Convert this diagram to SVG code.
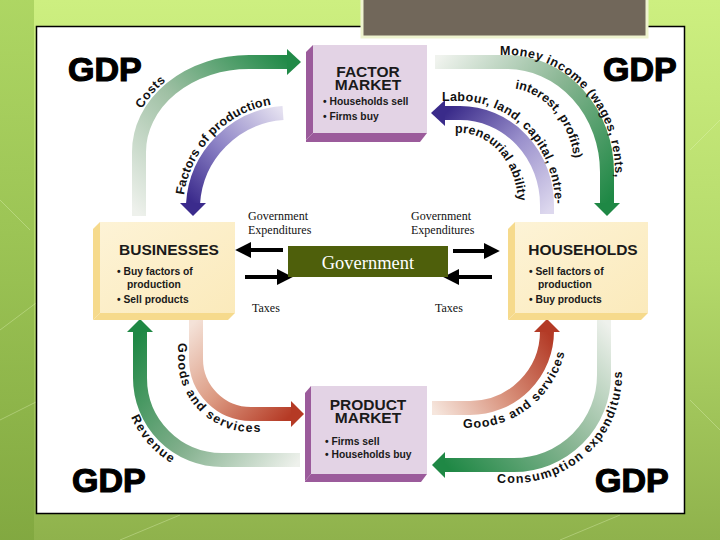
<svg xmlns="http://www.w3.org/2000/svg" width="720" height="540" viewBox="0 0 720 540">
<defs>
<linearGradient id="bg" x1="0" y1="0" x2="0" y2="1">
<stop offset="0" stop-color="#cdef80"/><stop offset="0.5" stop-color="#b4d96a"/><stop offset="1" stop-color="#8fb24c"/>
</linearGradient>
<linearGradient id="strip" x1="0" y1="0" x2="0" y2="1">
<stop offset="0" stop-color="#a6d05c"/><stop offset="1" stop-color="#7fa63e"/>
</linearGradient>
<linearGradient id="gCosts" gradientUnits="userSpaceOnUse" x1="139" y1="215" x2="290" y2="62">
<stop offset="0" stop-color="#eef1ec"/><stop offset="0.5" stop-color="#9fc0a4"/><stop offset="1" stop-color="#218a48"/></linearGradient>
<linearGradient id="gFact" gradientUnits="userSpaceOnUse" x1="283" y1="113" x2="193" y2="203">
<stop offset="0" stop-color="#e4e0f0"/><stop offset="0.55" stop-color="#8a80c4"/><stop offset="1" stop-color="#3b2b8c"/></linearGradient>
<linearGradient id="gMoney" gradientUnits="userSpaceOnUse" x1="435" y1="62" x2="607" y2="203">
<stop offset="0" stop-color="#f0f3ee"/><stop offset="0.5" stop-color="#88b592"/><stop offset="1" stop-color="#1f8845"/></linearGradient>
<linearGradient id="gLab" gradientUnits="userSpaceOnUse" x1="547" y1="213" x2="446" y2="113">
<stop offset="0" stop-color="#ddd8ee"/><stop offset="0.5" stop-color="#9a90cc"/><stop offset="1" stop-color="#3a2b8a"/></linearGradient>
<linearGradient id="gGoodsL" gradientUnits="userSpaceOnUse" x1="196" y1="320" x2="292" y2="414">
<stop offset="0" stop-color="#f4e2d8"/><stop offset="0.5" stop-color="#dc9a82"/><stop offset="1" stop-color="#b53a25"/></linearGradient>
<linearGradient id="gRev" gradientUnits="userSpaceOnUse" x1="300" y1="460" x2="140" y2="333">
<stop offset="0" stop-color="#eef1ec"/><stop offset="0.5" stop-color="#7fae8a"/><stop offset="1" stop-color="#1f8845"/></linearGradient>
<linearGradient id="gGoodsR" gradientUnits="userSpaceOnUse" x1="432" y1="408" x2="547" y2="331">
<stop offset="0" stop-color="#f6e6dd"/><stop offset="0.5" stop-color="#d8907a"/><stop offset="1" stop-color="#b33a26"/></linearGradient>
<linearGradient id="gCons" gradientUnits="userSpaceOnUse" x1="604" y1="320" x2="446" y2="465">
<stop offset="0" stop-color="#eef1ec"/><stop offset="0.5" stop-color="#8ab694"/><stop offset="1" stop-color="#1f8845"/></linearGradient>
<linearGradient id="yellowFace" x1="0" y1="0" x2="1" y2="1">
<stop offset="0" stop-color="#fdf3d6"/><stop offset="1" stop-color="#fbeabb"/></linearGradient>
<marker id="ah" viewBox="0 0 10 10" refX="2" refY="5" markerWidth="4" markerHeight="4" orient="auto" markerUnits="strokeWidth">
<path d="M0,0 L10,5 L0,10 z" fill="#000"/></marker>
<path id="tpCosts" d="M130,152 A119,99 0 0 1 249,53"/>
<path id="tpFact" d="M183,210 A107,107 0 0 1 290,103"/>
<path id="tpMoney" d="M480,55 L507,55 A108,117 0 0 1 615,172 L615,190"/>
<path id="tpInt" d="M500,88 L507,88 A68,84 0 0 1 575,172 L575,180"/>
<path id="tpLab" d="M440,101 L460,101 A95,104 0 0 1 555,205 L555,215"/>
<path id="tpPre" d="M450,133 L460,133 A58,72 0 0 1 518,205 L518,212"/>
<path id="tpGoodsL" d="M178,320 L178,359 A73,73 0 0 0 251,432 L300,432"/>
<path id="tpRev" d="M123,378 A99,99 0 0 0 222,477"/>
<path id="tpGoodsR" d="M440,428 L470,428 A97,97 0 0 0 567,331"/>
<path id="tpCons" d="M470,483 L514,483 A108,108 0 0 0 622,375 L622,350"/>
</defs>
<style>
.gdp{font-family:"Liberation Sans",Arial,sans-serif;font-weight:bold;font-size:34px;fill:#000;stroke:#000;stroke-width:1.2}
.lbl{font-family:"Liberation Sans",Arial,sans-serif;font-weight:bold;font-size:12.5px;fill:#111}
.title{font-family:"Liberation Sans",Arial,sans-serif;font-weight:bold;font-size:15.5px;fill:#1a1a1a}
.bul{font-family:"Liberation Sans",Arial,sans-serif;font-weight:bold;font-size:10.3px;fill:#1a1a1a}
.tm{font-family:"Liberation Serif","Times New Roman",serif;font-size:12px;fill:#111}
.band{fill:none;stroke-width:14}
.pfront{fill:#e3d3e5}
.pside{fill:#9b5b9b}
.yside{fill:#f6da8c}
.blk{stroke:#000;stroke-width:4;fill:none;marker-end:url(#ah)}
</style>

<!-- background -->
<rect x="0" y="0" width="720" height="540" fill="url(#bg)"/>
<rect x="0" y="0" width="34" height="540" fill="url(#strip)" opacity="0.8"/>
<g stroke="#e6f5c0" stroke-width="1" fill="none" opacity="0.35">
<path d="M0,330 L40,300 M0,420 L40,400 M690,150 L720,120 M690,400 L720,430 M120,540 L180,515 M560,540 L620,515 M0,200 L30,230"/>
</g>
<rect x="36.5" y="26.5" width="648" height="487" fill="#fff" stroke="#000" stroke-width="1.5"/>
<rect x="362" y="-3" width="285" height="40" fill="#71675a" stroke="#eef3cf" stroke-width="3"/>

<!-- GDP labels -->
<text class="gdp" x="68" y="81">GDP</text>
<text class="gdp" x="603" y="81">GDP</text>
<text class="gdp" x="72" y="492">GDP</text>
<text class="gdp" x="595" y="492">GDP</text>

<!-- connectors -->
<g id="connectors">
<path class="band" stroke="url(#gCosts)" d="M139,216 L139,152 A110,90 0 0 1 249,62 L288,62"/>
<polygon points="287,49 301,62 287,75" fill="#218a48"/>
<path class="band" stroke="url(#gFact)" d="M283,113 A97,97 0 0 0 193,204"/>
<polygon points="180,203 206,203 193,216" fill="#3b2b8c"/>
<path class="band" stroke="url(#gMoney)" d="M435,62 L507,62 A100,110 0 0 1 607,172 L607,204"/>
<polygon points="594,203 620,203 607,216" fill="#1f8845"/>
<path class="band" stroke="url(#gLab)" d="M547,214 L547,205 A87,92 0 0 0 460,113 L444,113"/>
<polygon points="445,100 445,126 431,113" fill="#3a2b8a"/>
<path class="band" stroke="url(#gGoodsL)" d="M196,320 L196,359 A55,55 0 0 0 251,414 L292,414"/>
<polygon points="291,401 291,427 304,414" fill="#b53a25"/>
<path class="band" stroke="url(#gRev)" d="M300,460 L222,460 A82,82 0 0 1 140,378 L140,331"/>
<polygon points="127,332 153,332 140,319" fill="#1f8845"/>
<path class="band" stroke="url(#gGoodsR)" d="M432,408 L470,408 A77,77 0 0 0 547,331 L547,330"/>
<polygon points="534,332 560,332 547,319" fill="#b33a26"/>
<path class="band" stroke="url(#gCons)" d="M604,320 L604,375 A90,90 0 0 1 514,465 L444,465"/>
<polygon points="445,452 445,478 432,465" fill="#1f8845"/>

<text class="lbl"><textPath href="#tpCosts" startOffset="45" textLength="37">Costs</textPath></text>
<text class="lbl"><textPath href="#tpFact" startOffset="15" textLength="134">Factors of production</textPath></text>
<text class="lbl"><textPath href="#tpMoney" startOffset="20" textLength="189">Money income (wages, rents,</textPath></text>
<text class="lbl"><textPath href="#tpInt" startOffset="15" textLength="98">interest, profits)</textPath></text>
<text class="lbl"><textPath href="#tpLab" startOffset="2" textLength="173">Labour, land, capital, entre-</textPath></text>
<text class="lbl"><textPath href="#tpPre" startOffset="5" textLength="103">preneurial ability</textPath></text>
<text class="lbl"><textPath href="#tpGoodsL" startOffset="23" textLength="140">Goods and services</textPath></text>
<text class="lbl"><textPath href="#tpRev" startOffset="40" textLength="62">Revenue</textPath></text>
<text class="lbl"><textPath href="#tpGoodsR" startOffset="23" textLength="137">Goods and services</textPath></text>
<text class="lbl"><textPath href="#tpCons" startOffset="27" textLength="190">Consumption expenditures</textPath></text>

<line class="blk" x1="283" y1="250" x2="248" y2="250"/>
<line class="blk" x1="245" y1="277" x2="280" y2="277"/>
<line class="blk" x1="453" y1="251" x2="487" y2="251"/>
<line class="blk" x1="492" y1="277" x2="456" y2="277"/>
<text class="tm" x="248" y="220">Government</text>
<text class="tm" x="248" y="234">Expenditures</text>
<text class="tm" x="411" y="220">Government</text>
<text class="tm" x="411" y="234">Expenditures</text>
<text class="tm" x="252" y="312">Taxes</text>
<text class="tm" x="435" y="312">Taxes</text>
</g>

<!-- nodes -->
<g id="factor-market">
<polygon class="pside" points="306,52 313,45 313,133 306,140"/>
<polygon class="pside" points="306,140 313,133 427,133 420,142 306,142"/>
<rect class="pfront" x="313" y="45" width="114" height="88"/>
<text class="title" x="368" y="77" text-anchor="middle">FACTOR</text>
<text class="title" x="368" y="90" text-anchor="middle">MARKET</text>
<text class="bul" x="323" y="105">• Households sell</text>
<text class="bul" x="323" y="120">• Firms buy</text>
</g>

<g id="product-market">
<polygon class="pside" points="305,393 311,386 311,474 305,481"/>
<polygon class="pside" points="305,481 311,474 427,474 421,482 305,482"/>
<rect class="pfront" x="311" y="386" width="116" height="88"/>
<text class="title" x="368" y="410" text-anchor="middle">PRODUCT</text>
<text class="title" x="368" y="423" text-anchor="middle">MARKET</text>
<text class="bul" x="325" y="445">• Firms sell</text>
<text class="bul" x="325" y="458">• Households buy</text>
</g>

<g id="businesses">
<polygon class="yside" points="93,229 100,222 100,313 93,320"/>
<polygon class="yside" points="93,320 100,313 235,313 228,320"/>
<rect x="100" y="222" width="135" height="91" fill="url(#yellowFace)"/>
<text class="title" x="169" y="255" text-anchor="middle" font-size="16px">BUSINESSES</text>
<text class="bul" x="117" y="275">• Buy factors of</text>
<text class="bul" x="127" y="288">production</text>
<text class="bul" x="117" y="303">• Sell products</text>
</g>

<g id="households">
<polygon class="yside" points="508,229 515,222 515,313 508,320"/>
<polygon class="yside" points="508,320 515,313 648,313 641,320"/>
<rect x="515" y="222" width="133" height="91" fill="url(#yellowFace)"/>
<text class="title" x="583" y="255" text-anchor="middle" font-size="16px">HOUSEHOLDS</text>
<text class="bul" x="529" y="275">• Sell factors of</text>
<text class="bul" x="538" y="288">production</text>
<text class="bul" x="529" y="303">• Buy products</text>
</g>

<g id="government">
<rect x="288" y="246" width="160" height="31" fill="#4e5f0b"/>
<text x="368" y="269" text-anchor="middle" font-family="'Liberation Serif','Times New Roman',serif" font-size="18.5px" fill="#fff">Government</text>
</g>
</svg>
